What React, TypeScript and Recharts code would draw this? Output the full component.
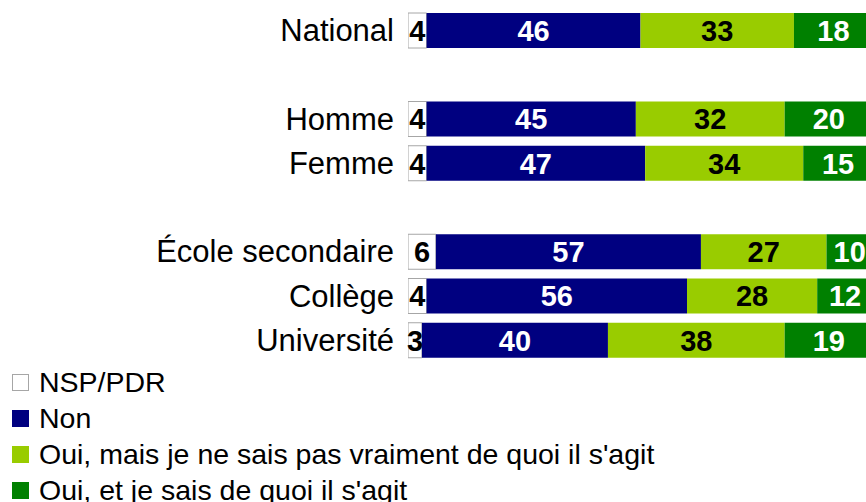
import { Bar, BarChart, LabelList, XAxis, YAxis } from 'recharts';

// Groupes (les lignes vides séparent les blocs)
const categories = ['National', '', 'Homme', 'Femme', '', 'École secondaire', 'Collège', 'Université'];
const nsp = [4, null, 4, 4, null, 6, 4, 3];
const non = [46, null, 45, 47, null, 57, 56, 40];
const ouiMais = [33, null, 32, 34, null, 27, 28, 38];
const ouiSait = [18, null, 20, 15, null, 10, 12, 19];

const seriesNames = [
  'NSP/PDR',
  'Non',
  "Oui, mais je ne sais pas vraiment de quoi il s'agit",
  "Oui, et je sais de quoi il s'agit",
];

const data = categories.map((name, i) => ({
  name,
  nsp: nsp[i],
  non: non[i],
  ouiMais: ouiMais[i],
  ouiSait: ouiSait[i],
}));

const FONT = '"Liberation Sans", Arial, sans-serif';
const fills = ['#ffffff', '#000080', '#99cc00', '#008000'];
const strokes = ['#a6a6a6', '#000080', '#99cc00', '#008000'];

const labelStyle = { fontFamily: FONT, fontSize: 29, fontWeight: 'bold' as const };

export default function App() {
  return (
    <div style={{ position: 'fixed', left: 0, top: 0, width: 866, height: 502, overflow: 'hidden', background: '#fff' }}>
      <BarChart
        width={900}
        height={502}
        data={data}
        layout="vertical"
        margin={{ top: 8, right: 27, bottom: 140, left: 0 }}
        barSize={35}
      >
        <XAxis type="number" domain={[0, 100]} allowDataOverflow hide />
        <YAxis
          type="category"
          dataKey="name"
          width={408}
          axisLine={false}
          tickLine={false}
          tickSize={0}
          tickMargin={14}
          interval={0}
          tick={{ fill: '#000', fontSize: 31, fontFamily: FONT }}
        />
        <Bar dataKey="nsp" name={seriesNames[0]} stackId="a" fill={fills[0]} stroke={strokes[0]} isAnimationActive={false}>
          <LabelList dataKey="nsp" position="center" fill="#000" style={labelStyle} />
        </Bar>
        <Bar dataKey="non" name={seriesNames[1]} stackId="a" fill={fills[1]} isAnimationActive={false}>
          <LabelList dataKey="non" position="center" fill="#fff" style={labelStyle} />
        </Bar>
        <Bar dataKey="ouiMais" name={seriesNames[2]} stackId="a" fill={fills[2]} isAnimationActive={false}>
          <LabelList dataKey="ouiMais" position="center" fill="#000" style={labelStyle} />
        </Bar>
        <Bar dataKey="ouiSait" name={seriesNames[3]} stackId="a" fill={fills[3]} isAnimationActive={false}>
          <LabelList dataKey="ouiSait" position="center" fill="#fff" style={labelStyle} />
        </Bar>
      </BarChart>
      <div style={{ position: 'absolute', left: 0, top: 364, fontFamily: FONT, fontSize: 28.5, color: '#000' }}>
        {seriesNames.map((label, i) => (
          <div key={label} style={{ display: 'flex', alignItems: 'center', height: 36 }}>
            <span
              style={{
                display: 'inline-block',
                width: 15,
                height: 15,
                marginLeft: 12,
                marginRight: 10,
                background: fills[i],
                border: `1px solid ${strokes[i]}`,
              }}
            />
            <span style={{ whiteSpace: 'nowrap' }}>{label}</span>
          </div>
        ))}
      </div>
    </div>
  );
}
